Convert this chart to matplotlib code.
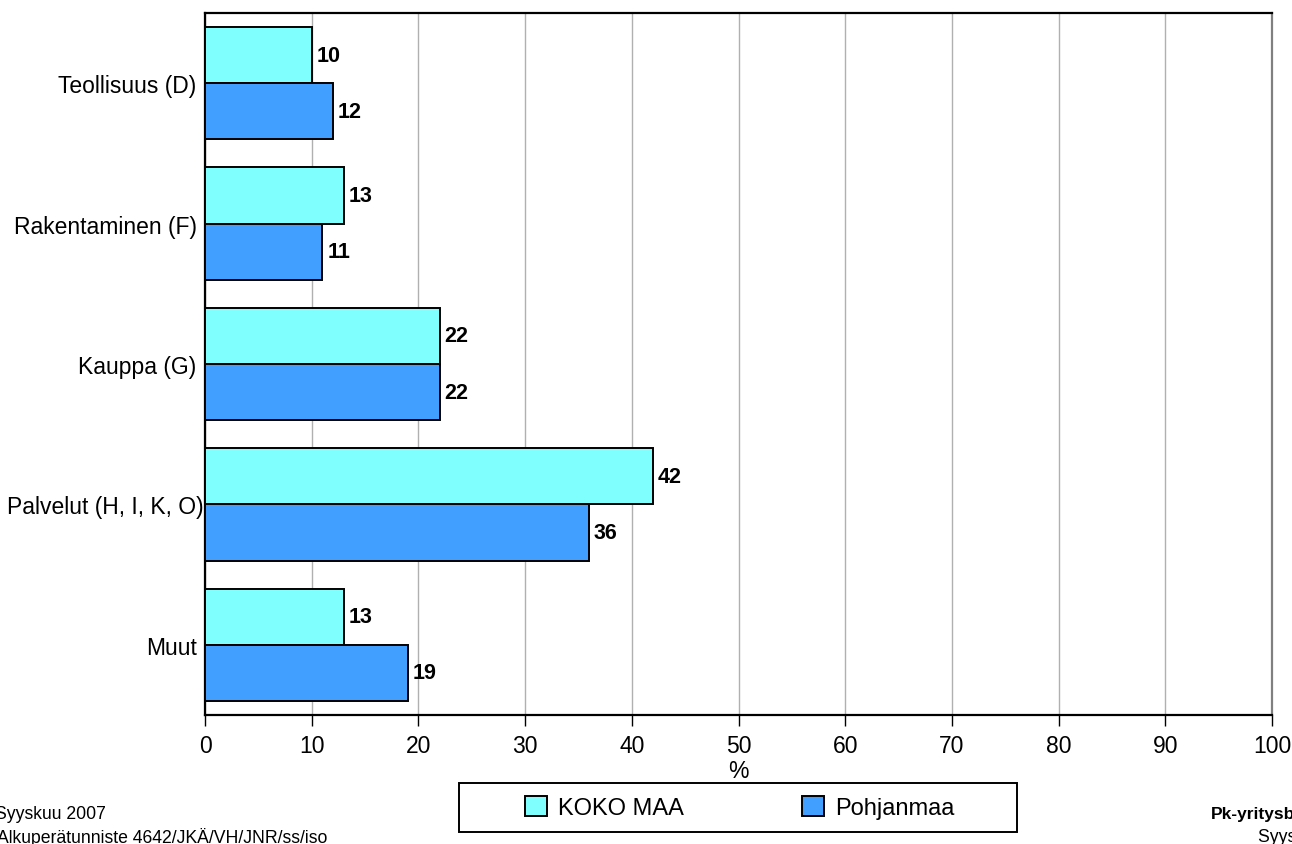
import matplotlib
matplotlib.use("Agg")
import matplotlib.pyplot as plt
import matplotlib.transforms as mtransforms
import numpy as np
from matplotlib.patches import Patch, Rectangle

plt.rcParams['font.family'] = ['Liberation Sans', 'DejaVu Sans']

categories = ["Teollisuus (D)", "Rakentaminen (F)", "Kauppa (G)", "Palvelut (H, I, K, O)", "Muut"]
koko_maa = [10, 13, 22, 42, 13]
pohjanmaa = [12, 11, 22, 36, 19]
series_names = ["KOKO MAA", "Pohjanmaa"]
xticks = list(range(0, 101, 10))

c1 = "#80FFFF"
c2 = "#409FFF"

W, H = 1292, 845
fig = plt.figure(figsize=(W/100, H/100), dpi=100)
ax = fig.add_axes([205/W, 1-716/H, (1272-205)/W, (716-14)/H])

y = np.arange(len(categories))
h = 0.4
b1 = ax.barh(y - h/2, koko_maa, height=h, color=c1, edgecolor="black", linewidth=1.4, zorder=3)
b2 = ax.barh(y + h/2, pohjanmaa, height=h, color=c2, edgecolor="black", linewidth=1.4, zorder=3)

for bars, vals in ((b1, koko_maa), (b2, pohjanmaa)):
    for bar, v in zip(bars, vals):
        ax.text(bar.get_width() + 0.45, bar.get_y() + bar.get_height()/2, f"{v}",
                ha="left", va="center", fontsize=15.5, fontweight="bold")

ax.set_ylim(len(categories) - 0.5, -0.5)
ax.set_xlim(0, 100)
ax.set_yticks(y)
ax.set_yticklabels(categories, fontsize=16.5)
ax.set_xticks(xticks)
ax.set_xticklabels([str(t) for t in xticks], fontsize=16.5)
ax.tick_params(axis="y", length=0, pad=6)
ax.tick_params(axis="x", length=8, width=1, pad=6)
ax.xaxis.grid(True, color="#b0b0b0", linewidth=1, zorder=0)
ax.set_axisbelow(True)
for s in ("left", "bottom", "top"):
    ax.spines[s].set_linewidth(1.6)
    ax.spines[s].set_color("black")
ax.spines["right"].set_color("#808080")
ax.spines["right"].set_linewidth(1.6)
ax.set_xlabel("%", fontsize=16.5, labelpad=1)

# the long label sits slightly further right in the reference
for lab in ax.get_yticklabels():
    if lab.get_text().startswith("Palvelut"):
        lab.set_transform(lab.get_transform() + mtransforms.ScaledTranslation(7/100, 0, fig.dpi_scale_trans))

handles = [Patch(facecolor=c1, edgecolor="black", linewidth=1.4),
           Patch(facecolor=c2, edgecolor="black", linewidth=1.4)]
leg = fig.legend(handles, series_names, loc="center", ncol=2,
                 bbox_to_anchor=(740/W, 1-808.5/H), fontsize=17,
                 frameon=False, handlelength=0.9, handleheight=0.9,
                 columnspacing=5.0, handletextpad=0.5, borderpad=0.3)
fig.add_artist(Rectangle((459/W, 1-833/H), (1017-459)/W, 49/H, transform=fig.transFigure,
                         facecolor="none", edgecolor="black", linewidth=1.4))

fig.text(-5/W, 1-815/H, "Syyskuu 2007", fontsize=12.7, ha="left", va="center")
fig.text(-3/W, 1-838/H, "Alkuperätunniste 4642/JKÄ/VH/JNR/ss/iso", fontsize=12.7, ha="left", va="center")
fig.text(1211/W, 1-815/H, "Pk-yritysbarometri", fontsize=12.5, fontweight="bold", ha="left", va="center")
fig.text(1258/W, 1-838/H, "Syyskuu 2007", fontsize=12.7, ha="left", va="center")

fig.savefig("out.png", dpi=100)
